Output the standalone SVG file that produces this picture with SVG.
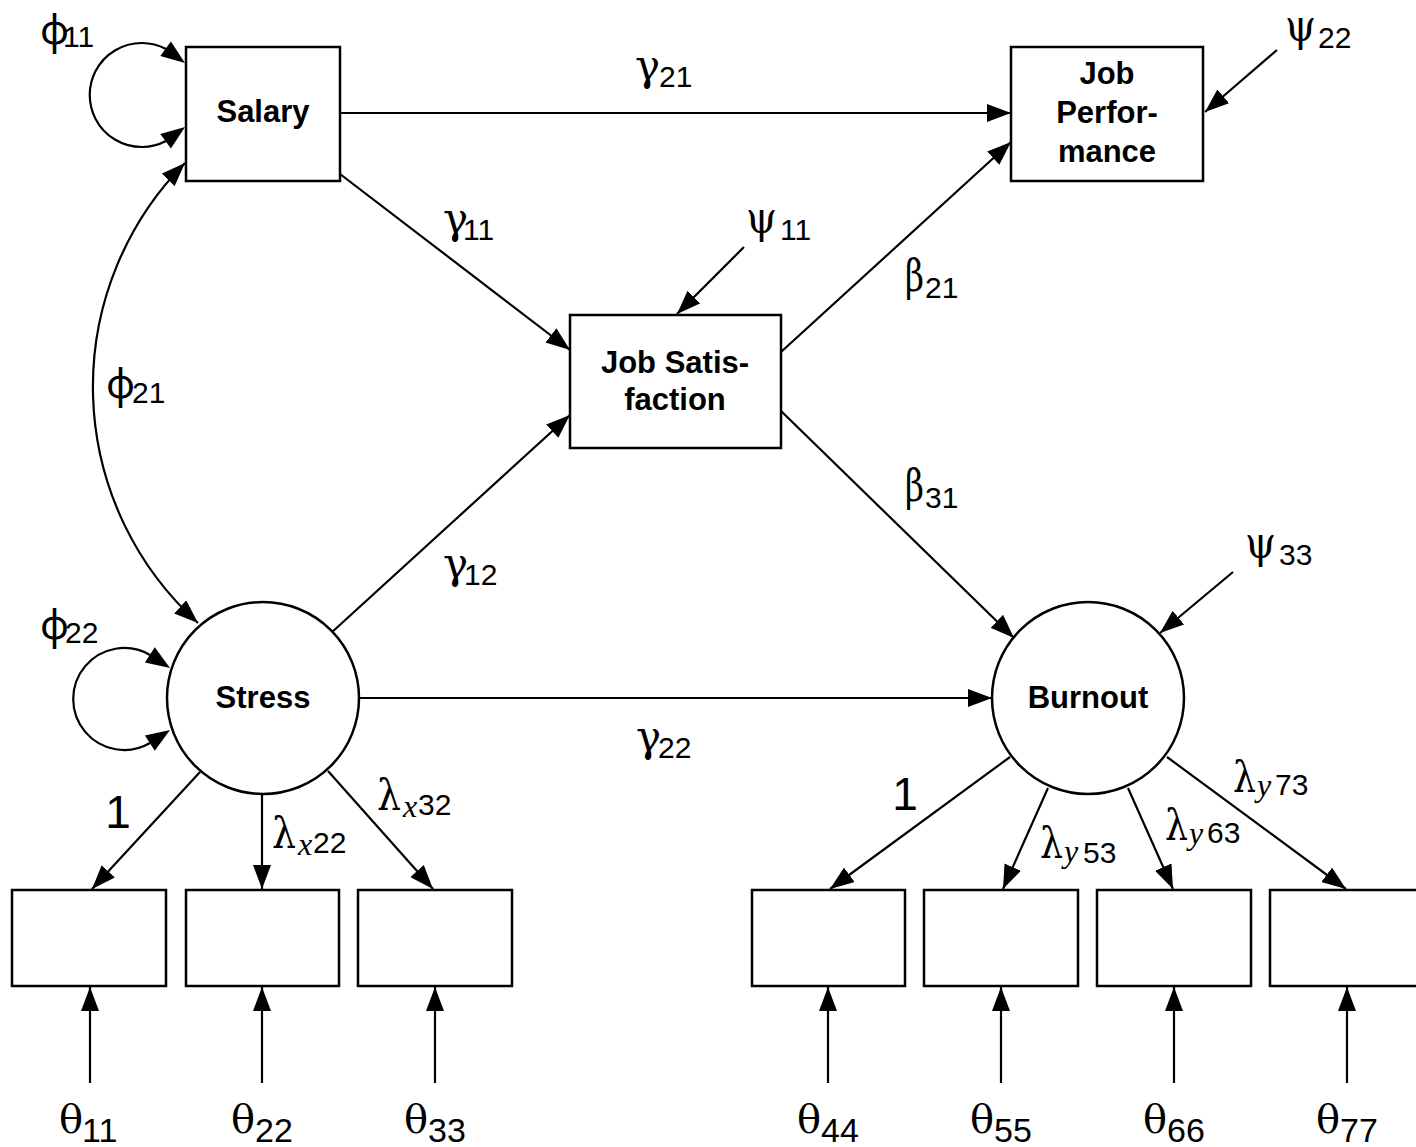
<svg xmlns="http://www.w3.org/2000/svg" width="1416" height="1147" viewBox="0 0 1416 1147">
<style>
.box{fill:#fff;stroke:#000;stroke-width:2.5}
.ln{fill:none;stroke:#000;stroke-width:2.2}
.hd{fill:#000;stroke:none}
.nt{font-family:"Liberation Sans",Arial,sans-serif;font-weight:bold;font-size:31px;text-anchor:middle;fill:#000}
.ph{font-family:"Noto Sans","DejaVu Sans",sans-serif;font-size:40px;fill:#000}
.ga{font-family:"DejaVu Serif",serif;font-size:42px;fill:#000}
.ps{font-family:"DejaVu Serif",serif;font-size:44px;fill:#000}
.be{font-family:"DejaVu Serif",serif;font-size:44px;fill:#000}
.th{font-family:"DejaVu Serif",serif;font-size:40px;fill:#000}
.la{font-family:"DejaVu Serif",serif;font-size:43px;fill:#000}
.s{font-family:"Liberation Sans",Arial,sans-serif;font-size:30px;fill:#000}
.st{font-family:"Liberation Sans",Arial,sans-serif;font-size:34px;fill:#000}
.it{font-family:"Liberation Serif","Times New Roman",serif;font-style:italic;font-size:32px;fill:#000}
.one{font-family:"Liberation Sans",Arial,sans-serif;font-size:46px;text-anchor:middle;fill:#000}
</style>
<defs>
<marker id="ah" viewBox="0 0 24 18" refX="24" refY="9" markerWidth="24" markerHeight="18" markerUnits="userSpaceOnUse" orient="auto-start-reverse">
<path d="M0,0 L24,9 L0,18 z" fill="#000"/>
</marker>
</defs>
<rect width="1416" height="1147" fill="#fff"/>

<g id="connectors">
<line class="ln" x1="340" y1="113" x2="1011" y2="113" marker-end="url(#ah)"/>
<line class="ln" x1="340" y1="174" x2="570" y2="350" marker-end="url(#ah)"/>
<line class="ln" x1="744" y1="247" x2="677" y2="314" marker-end="url(#ah)"/>
<line class="ln" x1="781" y1="352" x2="1011" y2="142" marker-end="url(#ah)"/>
<line class="ln" x1="781" y1="411" x2="1014" y2="638" marker-end="url(#ah)"/>
<line class="ln" x1="1233" y1="572" x2="1160" y2="633" marker-end="url(#ah)"/>
<line class="ln" x1="1277" y1="50" x2="1205" y2="112" marker-end="url(#ah)"/>
<line class="ln" x1="331" y1="633" x2="570" y2="415" marker-end="url(#ah)"/>
<line class="ln" x1="359" y1="698" x2="992" y2="698" marker-end="url(#ah)"/>
<path class="ln" d="M185,163 A318,318 0 0,0 198,623" marker-start="url(#ah)" marker-end="url(#ah)"/>
<path class="ln" d="M166,49 A52,52 0 1,0 166,141"/>
<polygon class="hd" points="185,63 160.3,56.1 170.9,41.5"/>
<polygon class="hd" points="185,127 170.9,148.5 160.3,133.9"/>
<path class="ln" d="M150,655 A51,51 0 1,0 150,743"/>
<polygon class="hd" points="170,668 144.9,662.4 154.8,647.2"/>
<polygon class="hd" points="170,730 154.8,750.8 144.9,735.6"/>
<line class="ln" x1="200" y1="772" x2="92" y2="889" marker-end="url(#ah)"/>
<line class="ln" x1="262" y1="795" x2="262" y2="889" marker-end="url(#ah)"/>
<line class="ln" x1="328" y1="771" x2="433" y2="889" marker-end="url(#ah)"/>
<line class="ln" x1="1010" y1="757" x2="830" y2="889" marker-end="url(#ah)"/>
<line class="ln" x1="1048" y1="788" x2="1003" y2="889" marker-end="url(#ah)"/>
<line class="ln" x1="1128" y1="788" x2="1173" y2="889" marker-end="url(#ah)"/>
<line class="ln" x1="1167" y1="757" x2="1346" y2="889" marker-end="url(#ah)"/>
<line class="ln" x1="90" y1="1083" x2="90" y2="987" marker-end="url(#ah)"/>
<line class="ln" x1="262" y1="1083" x2="262" y2="987" marker-end="url(#ah)"/>
<line class="ln" x1="435" y1="1083" x2="435" y2="987" marker-end="url(#ah)"/>
<line class="ln" x1="828" y1="1083" x2="828" y2="987" marker-end="url(#ah)"/>
<line class="ln" x1="1001" y1="1083" x2="1001" y2="987" marker-end="url(#ah)"/>
<line class="ln" x1="1174" y1="1083" x2="1174" y2="987" marker-end="url(#ah)"/>
<line class="ln" x1="1347" y1="1083" x2="1347" y2="987" marker-end="url(#ah)"/>
</g>

<g id="salary"><rect class="box" x="186" y="47" width="154" height="134"/><text class="nt" x="263" y="122">Salary</text></g>
<g id="job-performance"><rect class="box" x="1011" y="47" width="192" height="134"/>
<text class="nt" x="1107" y="84">Job</text><text class="nt" x="1107" y="123">Perfor-</text><text class="nt" x="1107" y="162">mance</text></g>
<g id="job-satisfaction"><rect class="box" x="570" y="315" width="211" height="133"/>
<text class="nt" x="675" y="373">Job Satis-</text><text class="nt" x="675" y="410">faction</text></g>
<g id="stress"><circle class="box" cx="263" cy="698" r="96"/><text class="nt" x="263" y="708">Stress</text></g>
<g id="burnout"><circle class="box" cx="1088" cy="698" r="96"/><text class="nt" x="1088" y="708">Burnout</text></g>
<g id="x1"><rect class="box" x="12" y="890" width="154" height="96"/></g>
<g id="x2"><rect class="box" x="186" y="890" width="153" height="96"/></g>
<g id="x3"><rect class="box" x="358" y="890" width="154" height="96"/></g>
<g id="y4"><rect class="box" x="752" y="890" width="153" height="96"/></g>
<g id="y5"><rect class="box" x="924" y="890" width="154" height="96"/></g>
<g id="y6"><rect class="box" x="1097" y="890" width="154" height="96"/></g>
<g id="y7"><rect class="box" x="1270" y="890" width="160" height="96"/></g>

<g id="labels">
<text><tspan class="ph" x="40" y="44">φ</tspan><tspan class="s" x="63" y="47">11</tspan></text>
<text><tspan class="ga" x="635" y="80">γ</tspan><tspan class="s" x="659" y="87">21</tspan></text>
<text><tspan class="ga" x="443" y="233">γ</tspan><tspan class="s" x="463" y="240">11</tspan></text>
<text><tspan class="ps" x="746" y="233" textLength="31" lengthAdjust="spacingAndGlyphs">ψ</tspan><tspan class="s" x="780" y="240">11</tspan></text>
<text><tspan class="be" x="905" y="291" textLength="19" lengthAdjust="spacingAndGlyphs">β</tspan><tspan class="s" x="925" y="298">21</tspan></text>
<text><tspan class="be" x="905" y="501" textLength="19" lengthAdjust="spacingAndGlyphs">β</tspan><tspan class="s" x="925" y="508">31</tspan></text>
<text><tspan class="ps" x="1245" y="558" textLength="31" lengthAdjust="spacingAndGlyphs">ψ</tspan><tspan class="s" x="1279" y="565">33</tspan></text>
<text><tspan class="ps" x="1285" y="41" textLength="31" lengthAdjust="spacingAndGlyphs">ψ</tspan><tspan class="s" x="1318" y="48">22</tspan></text>
<text><tspan class="ga" x="443" y="578">γ</tspan><tspan class="s" x="464" y="585">12</tspan></text>
<text><tspan class="ga" x="636" y="751">γ</tspan><tspan class="s" x="658" y="758">22</tspan></text>
<text><tspan class="ph" x="106" y="398">φ</tspan><tspan class="s" x="132" y="403">21</tspan></text>
<text><tspan class="ph" x="40" y="639">φ</tspan><tspan class="s" x="65" y="643">22</tspan></text>
<text class="one" x="118" y="828">1</text>
<text class="one" x="905" y="810">1</text>
<text><tspan class="la" x="272" y="848" textLength="24" lengthAdjust="spacingAndGlyphs">λ</tspan><tspan class="it" x="298" y="855">x</tspan><tspan class="s" x="313" y="853">22</tspan></text>
<text><tspan class="la" x="377" y="810" textLength="24" lengthAdjust="spacingAndGlyphs">λ</tspan><tspan class="it" x="403" y="817">x</tspan><tspan class="s" x="418" y="815">32</tspan></text>
<text><tspan class="la" x="1040" y="858" textLength="23" lengthAdjust="spacingAndGlyphs">λ</tspan><tspan class="it" x="1064" y="862">y</tspan><tspan class="s" x="1083" y="863">53</tspan></text>
<text><tspan class="la" x="1165" y="840" textLength="23" lengthAdjust="spacingAndGlyphs">λ</tspan><tspan class="it" x="1189" y="844">y</tspan><tspan class="s" x="1207" y="843">63</tspan></text>
<text><tspan class="la" x="1233" y="792" textLength="23" lengthAdjust="spacingAndGlyphs">λ</tspan><tspan class="it" x="1257" y="796">y</tspan><tspan class="s" x="1275" y="795">73</tspan></text>
<text><tspan class="th" x="59" y="1133">θ</tspan><tspan class="st" x="82" y="1142">11</tspan></text>
<text><tspan class="th" x="231" y="1133">θ</tspan><tspan class="st" x="255" y="1142">22</tspan></text>
<text><tspan class="th" x="404" y="1133">θ</tspan><tspan class="st" x="428" y="1142">33</tspan></text>
<text><tspan class="th" x="797" y="1133">θ</tspan><tspan class="st" x="821" y="1142">44</tspan></text>
<text><tspan class="th" x="970" y="1133">θ</tspan><tspan class="st" x="994" y="1142">55</tspan></text>
<text><tspan class="th" x="1143" y="1133">θ</tspan><tspan class="st" x="1167" y="1142">66</tspan></text>
<text><tspan class="th" x="1316" y="1133">θ</tspan><tspan class="st" x="1340" y="1142">77</tspan></text>
</g>
</svg>
